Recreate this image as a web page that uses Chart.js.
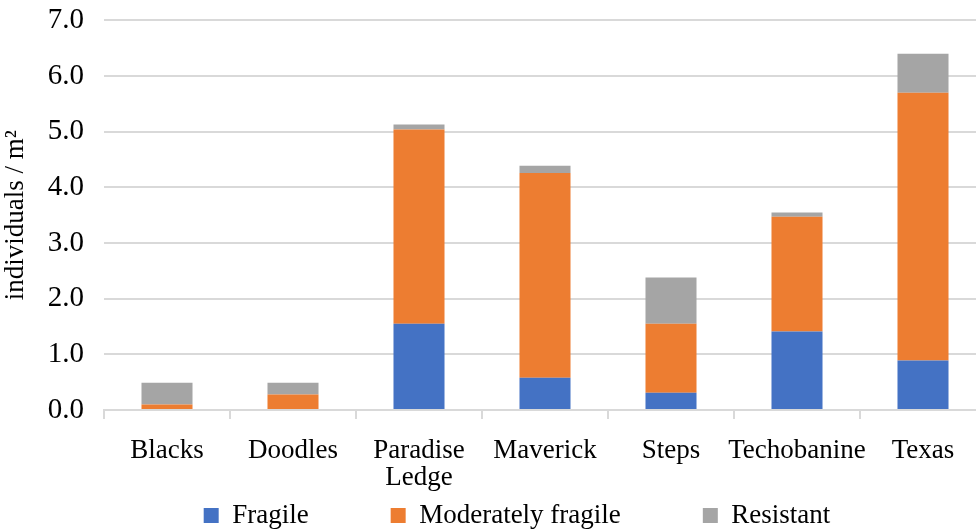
<!DOCTYPE html>
<html>
<head>
<meta charset="utf-8">
<script src="https://cdn.jsdelivr.net/npm/chart.js@4"></script>
<style>
  html, body { margin: 0; padding: 0; background: #fff; overflow: hidden; }
  #wrap { width: 990px; height: 546px; margin-top: -17px; position: relative; }
</style>
</head>
<body>
<div id="wrap"><canvas id="chart"></canvas></div>
<script>
// === DATA ===
const sites = ["Blacks", "Doodles", ["Paradise", "Ledge"], "Maverick", "Steps", "Techobanine", "Texas"];
const fragile = [0.00, 0.00, 1.55, 0.58, 0.31, 1.41, 0.89];
const moderatelyFragile = [0.10, 0.28, 3.49, 3.68, 1.24, 2.06, 4.81];
const resistant = [0.39, 0.21, 0.09, 0.13, 0.83, 0.08, 0.70];
const yTicks = [0, 1, 2, 3, 4, 5, 6, 7];

const serif = "'Liberation Serif', 'Times New Roman', serif";
const gridColor = "#d9d9d9";

// legend spacing: wide gaps between items without the tall box
const legendSpread = {
  id: "legendSpread",
  beforeUpdate(chart) {
    const lg = chart.legend;
    if (!lg || lg._spread) return;
    lg._spread = true;
    const fit = lg.fit;
    lg.fit = function () { fit.call(this); this.height = 34; };
  },
  afterLayout(chart) {
    const lg = chart.legend;
    lg.top -= lg.options.labels.padding - 7;
    lg.left += 24;
    lg.right += 24;
  }
};

new Chart(document.getElementById("chart"), {
  type: "bar",
  data: {
    labels: sites,
    datasets: [
      { label: "Fragile", data: fragile, backgroundColor: "#4472C4" },
      { label: "Moderately fragile", data: moderatelyFragile, backgroundColor: "#ED7D31" },
      { label: "Resistant", data: resistant, backgroundColor: "#A5A5A5" }
    ]
  },
  options: {
    responsive: true,
    maintainAspectRatio: false,
    animation: false,
    devicePixelRatio: 1,
    barPercentage: 0.405,
    categoryPercentage: 1,
    layout: { padding: { top: 0, right: 4, left: 0, bottom: 0 } },
    plugins: {
      tooltip: { enabled: false },
      legend: {
        position: "bottom",
        labels: {
          font: { family: serif, size: 27 },
          color: "#000",
          boxWidth: 15,
          boxHeight: 15,
          padding: 82
        }
      }
    },
    scales: {
      x: {
        stacked: true,
        afterFit(scale) { scale.height = 85; },
        border: { display: true, color: gridColor, width: 2 },
        grid: { drawOnChartArea: false, drawTicks: true, tickLength: 9, color: gridColor, lineWidth: 2 },
        ticks: {
          font: { family: serif, size: 27, lineHeight: 0.98 },
          color: "#000",
          maxRotation: 0,
          autoSkip: false,
          padding: 19
        }
      },
      y: {
        stacked: true,
        min: 0,
        max: 7,
        afterFit(scale) { scale.width = 104; },
        afterBuildTicks(scale) { scale.ticks = yTicks.map(v => ({ value: v })); },
        border: { display: false },
        grid: { color: gridColor, lineWidth: 2, drawTicks: false },
        ticks: {
          font: { family: serif, size: 29 },
          color: "#000",
          padding: 20,
          callback: v => v.toFixed(1)
        },
        title: {
          display: true,
          text: "individuals / m²",
          font: { family: serif, size: 27 },
          color: "#000",
          padding: { top: 0, bottom: 0 }
        }
      }
    }
  },
  plugins: [legendSpread]
});
</script>
</body>
</html>
